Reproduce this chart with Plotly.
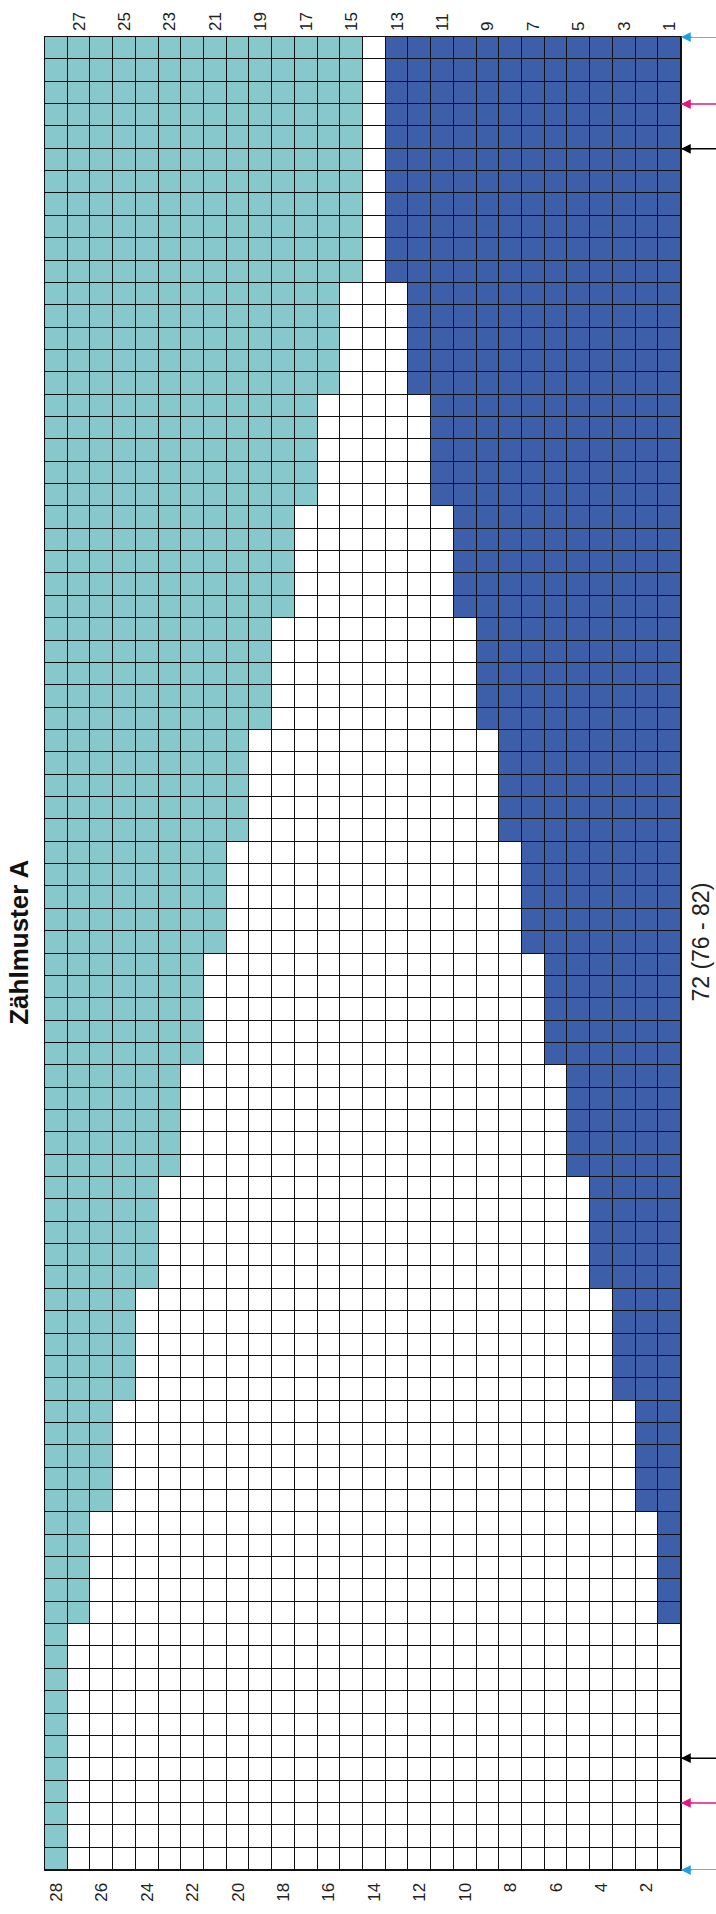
import plotly.graph_objects as go

# ---- data ----
knit_rows = list(range(1, 29))               # Reihen 1..28 (rechts -> links)
n_stitches = 82                              # Maschen (max. Größe)
group_lengths = [11, 5, 5, 5, 5, 5, 5, 5, 5, 5, 5, 5, 5, 11]
dark_counts   = [13, 12, 11, 10, 9, 8, 7, 6, 5, 4, 3, 2, 1, 0]
teal_counts   = [14, 13, 12, 11, 10, 9, 8, 7, 6, 5, 4, 3, 2, 1]
odd_ticks  = [27, 25, 23, 21, 19, 17, 15, 13, 11, 9, 7, 5, 3, 1]
even_ticks = [28, 26, 24, 22, 20, 18, 16, 14, 12, 10, 8, 6, 4, 2]
sizes       = [72, 76, 82]
size_colors = ["#000000", "#E5177F", "#1DA1E2"]
title_text = "Zählmuster A"
size_label = "72 (76 - 82)"

TEAL = "#87C8CC"
DARK = "#3D5FA9"

# ---- build matrix ----
z = []
for length, dk, tl in zip(group_lengths, dark_counts, teal_counts):
    for _ in range(length):
        row = []
        for r in knit_rows:
            if r <= dk:
                row.append(2)
            elif r > len(knit_rows) - tl:
                row.append(1)
            else:
                row.append(0)
        z.append(row)
stitches = list(range(len(z)))

fig = go.Figure()
fig.add_trace(go.Heatmap(
    x=knit_rows, y=stitches, z=z,
    zmin=0, zmax=2,
    colorscale=[[0, "#FFFFFF"], [0.33, "#FFFFFF"], [0.34, TEAL], [0.66, TEAL],
                [0.67, DARK], [1, DARK]],
    showscale=False, xgap=1, ygap=1, hoverinfo="skip",
))
fig.add_trace(go.Scatter(
    x=[knit_rows[0], knit_rows[-1]], y=[stitches[0], stitches[0]],
    xaxis="x2", mode="markers", marker=dict(opacity=0), hoverinfo="skip",
    showlegend=False,
))

tick_font = dict(family="Liberation Sans, Arial, sans-serif", size=17, color="#222222")
xr = [knit_rows[-1] + 0.5, knit_rows[0] - 0.5]

fig.update_layout(
    width=716, height=1914,
    margin=dict(l=45, r=35, t=35, b=27),
    paper_bgcolor="white", plot_bgcolor="#111111",
    showlegend=False,
    xaxis=dict(range=xr, tickmode="array", tickvals=even_ticks,
               ticktext=[str(v) for v in even_ticks], tickangle=-90,
               ticks="", showgrid=False, zeroline=False, side="bottom",
               tickfont=tick_font, ticklabelstandoff=5,
               showline=True, linecolor="#111111", linewidth=1, mirror=True),
    xaxis2=dict(range=xr, tickmode="array", tickvals=odd_ticks,
                ticktext=[str(v) for v in odd_ticks], tickangle=-90,
                ticks="", showgrid=False, zeroline=False, side="top",
                overlaying="x", anchor="y", tickfont=tick_font,
                ticklabelstandoff=5),
    yaxis=dict(range=[stitches[-1] + 0.5, stitches[0] - 0.5], showticklabels=False,
               ticks="", showgrid=False, zeroline=False,
               showline=True, linecolor="#111111", linewidth=1, mirror=True),
)

annotations = [
    dict(text="<b>" + title_text + "</b>", xref="paper", yref="paper",
         x=-0.042, y=0.506, xanchor="center", yanchor="middle",
         textangle=-90, showarrow=False,
         font=dict(family="Liberation Sans, Arial, sans-serif", size=26, color="#111111")),
    dict(text=size_label, xref="paper", yref="paper",
         x=1.030, y=0.506, xanchor="center", yanchor="middle",
         textangle=-90, showarrow=False,
         font=dict(family="Liberation Sans, Arial, sans-serif", size=23, color="#222222")),
]
shapes = []
for s, c in zip(sizes, size_colors):
    off = (n_stitches - s) / 2
    for yb in (off - 0.5, n_stitches - off - 0.5):
        shapes.append(dict(type="line", xref="paper", yref="y",
                           x0=1.0, x1=1.08, y0=yb, y1=yb,
                           line=dict(color=c, width=1.5)))
        annotations.append(dict(
            text="", xref="paper", yref="y", x=1, y=yb,
            ax=12, ay=0, showarrow=True, arrowhead=2, arrowsize=1.3,
            arrowwidth=1.5, arrowcolor=c,
        ))
fig.update_layout(annotations=annotations, shapes=shapes)

fig.write_html(
    "out.html",
    config={"displayModeBar": False},
    post_script="document.body.style.margin='0';document.body.style.overflow='hidden';",
)
